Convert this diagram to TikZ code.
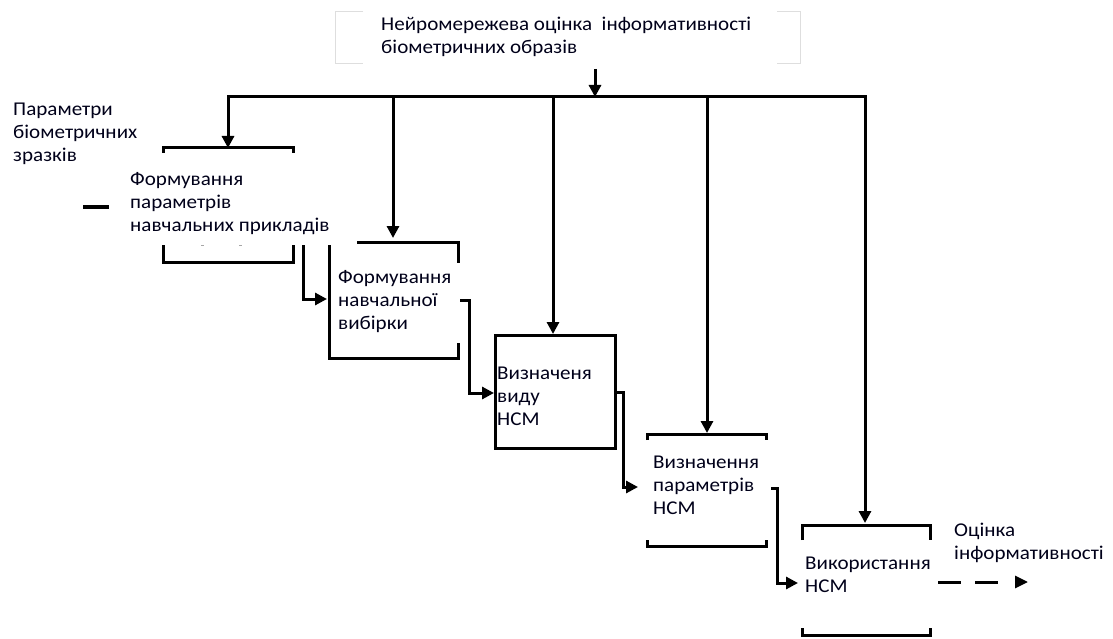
\documentclass[tikz,border=0pt]{standalone}
\usepackage{fontspec}
\setmainfont{Carlito}[FakeStretch=1.08]
\usetikzlibrary{arrows.meta}
\begin{document}
\begin{tikzpicture}[x=1pt,y=-1pt,
  ln/.style={line width=3pt, line cap=butt},
  arr/.style={ln, -{Triangle[length=12pt,width=12pt]}},
  lbl/.style={anchor=west, align=left, inner sep=0pt, text=black!90!blue,
              font=\fontsize{19.5}{23}\selectfont},
  thinframe/.style={draw=black!13, line width=1pt}]
\useasboundingbox (0,0) rectangle (1113,639);

% --- labels -------------------------------------------------------------
\node[lbl] (title) at (381,37) {Нейромережева оцінка \ інформативності\\біометричних образів};
\node[lbl] (inparam) at (13,133.5) {Параметри\\біометричних\\зразків};
\node[lbl] (t1) at (130,204) {Формування\\параметрів\\навчальних прикладів};
\node[lbl] (t2) at (338,302) {Формування\\навчальної\\вибірки};
\node[lbl] (t3) at (497,396) {Визначеня\\виду\\НСМ};
\node[lbl] (t4) at (653,485) {Визначення\\параметрів\\НСМ};
\node[lbl] (t5) at (805,574.5) {Використання\\НСМ};
\node[lbl] (out) at (954,543) {Оцінка\\інформативності};

% --- control frame at the top ------------------------------------------------
\draw[thinframe] (363,12) -- (335,12) -- (335,64) -- (363,64);
\draw[thinframe] (777,12) -- (800,12) -- (800,64) -- (777,64);

% --- function blocks ---------------------------------------------------------
% block 1
\draw[ln] (163,153) -- (163,148) -- (293,148) -- (293,153);
\draw[ln] (163,245) -- (163,262) -- (293,262) -- (293,245);
\draw[black!35, line width=1pt] (201,245) -- (204,245) (239,245) -- (242,245);
% block 2
\draw[ln] (357,242) -- (458,242) -- (458,263);
\draw[ln] (329,245) -- (329,358) -- (458,358) -- (458,343);
% block 3
\draw[ln] (495,335) rectangle (615,448);
% block 4
\draw[ln] (647,440) -- (647,434) -- (766,434) -- (766,440);
\draw[ln] (647,540) -- (647,546) -- (766,546) -- (766,540);
% block 5
\draw[ln] (802,540) -- (802,525) -- (930,525) -- (930,540);
\draw[ln] (802,628) -- (802,635) -- (930,635) -- (930,628);

% input stub on the left
\draw[ln] (83,207) -- (109,207);

% --- named connection points -------------------------------------------------
\coordinate (ctl) at (595,69);
\coordinate (busM) at (595,97);
\coordinate (busL) at (228,97);
\coordinate (busR) at (865,97);
\coordinate (in1) at (228,148);
\coordinate (in2) at (393,238);
\coordinate (in3) at (553,334);
\coordinate (in4) at (707,433);
\coordinate (in5) at (865,523);
\coordinate (o1) at (303,245);
\coordinate (l2) at (327,299);
\coordinate (o2) at (460,300);
\coordinate (l3) at (494,393);
\coordinate (o3) at (615,392);
\coordinate (l4) at (638,487);
\coordinate (o4) at (771,488);
\coordinate (l5) at (798,583);
\coordinate (o5) at (938,582);
\coordinate (res) at (1028,582);

% --- control bus -------------------------------------------------------------
\draw[arr] (ctl) -- (busM);
\draw[ln, {Triangle[length=12pt,width=12pt]}-{Triangle[length=12pt,width=12pt]}]
  (in1) -- (busL) -- (busR) -- (in5);
\draw[arr] (busL -| in2) -- (in2);
\draw[arr] (busL -| in3) -- (in3);
\draw[arr] (busL -| in4) -- (in4);

% --- flow between blocks -----------------------------------------------------
\draw[arr] (o1) |- (l2);
\draw[arr] (o2) -- ++(9,0) |- (l3);
\draw[arr] (o3) -- ++(8,0) |- (l4);
\draw[arr] (o4) -- ++(6,0) |- (l5);

% --- result --------------------------------------------------------------------
\draw[ln, dash pattern=on 23pt off 14pt on 23pt off 40pt,
      -{Triangle[length=13pt,width=12pt]}] (o5) -- (res);
\end{tikzpicture}
\end{document}
